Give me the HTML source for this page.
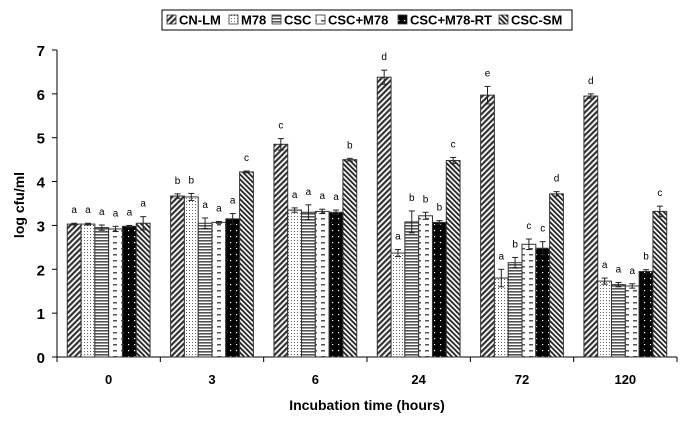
<!DOCTYPE html>
<html><head><meta charset="utf-8"><style>
body{margin:0;background:#fff;}
svg{display:block;font-family:"Liberation Sans",Arial,sans-serif;}
</style></head><body>
<svg id="chart" width="686" height="421">
<defs>
<pattern id="p0" width="4" height="4" patternUnits="userSpaceOnUse" patternTransform="rotate(45)"><rect width="4" height="4" fill="#fff"/><rect width="2.2" height="4" fill="#333"/></pattern>
<pattern id="p1" width="3" height="3" patternUnits="userSpaceOnUse"><rect width="3" height="3" fill="#fff"/><rect width="1" height="1" fill="#666"/></pattern>
<pattern id="p2" width="4" height="3" patternUnits="userSpaceOnUse"><rect width="4" height="3" fill="#fff"/><rect width="4" height="1.6" fill="#555"/></pattern>
<pattern id="p3" width="8" height="6" patternUnits="userSpaceOnUse"><rect width="8" height="6" fill="#fff"/><rect x="1" y="2" width="4" height="1.5" fill="#555"/></pattern>
<pattern id="p4" width="6" height="6" patternUnits="userSpaceOnUse"><rect width="6" height="6" fill="#000"/><rect x="2" y="2" width="1.2" height="1.2" fill="#fff"/></pattern>
<pattern id="p5" width="3.5" height="3.5" patternUnits="userSpaceOnUse" patternTransform="rotate(-45)"><rect width="3.5" height="3.5" fill="#fff"/><rect width="1.8" height="3.5" fill="#222"/></pattern>
</defs>
<g id="legend">
<rect x="162" y="10" width="410" height="20" fill="#fff" stroke="#000" stroke-width="1"/>
</g>
<g id="plot"></g>
</svg>
<script>
const categories=["0","3","6","24","72","120"];
const seriesNames=["CN-LM","M78","CSC","CSC+M78","CSC+M78-RT","CSC-SM"];
const sCNLM=[3.03,3.67,4.85,6.38,5.97,5.95];
const sM78=[3.03,3.65,3.35,2.37,1.80,1.73];
const sCSC=[2.95,3.05,3.30,3.08,2.15,1.65];
const sCSCM78=[2.92,3.07,3.32,3.22,2.57,1.62];
const sRT=[2.98,3.15,3.30,3.07,2.48,1.95];
const sSM=[3.05,4.22,4.50,4.48,3.72,3.32];
const eCNLM=[0.02,0.05,0.13,0.16,0.2,0.05];
const eM78=[0.02,0.08,0.05,0.08,0.2,0.07];
const eCSC=[0.06,0.12,0.17,0.25,0.12,0.05];
const eCSCM78=[0.06,0.02,0.05,0.08,0.12,0.05];
const eRT=[0.02,0.12,0.05,0.04,0.15,0.04];
const eSM=[0.15,0.02,0.03,0.07,0.05,0.12];
const letters=[["a","b","c","d","e","d"],["a","b","a","a","a","a"],["a","a","a","b","b","a"],["a","a","a","b","c","a"],["a","a","a","b","c","b"],["a","c","b","c","d","c"]];
const yTicks=[0,1,2,3,4,5,6,7];
const series=[sCNLM,sM78,sCSC,sCSCM78,sRT,sSM];
const errs=[eCNLM,eM78,eCSC,eCSCM78,eRT,eSM];
const X0=57,X1=677,Y0=357,Y1=50,YMAX=7;
const gw=(X1-X0)/categories.length, bw=13.8;
const y=v=>Y0-(v/YMAX)*(Y0-Y1);
const xb=(g,s)=>X0+g*gw+(gw-bw*6)/2+s*bw;
const NS="http://www.w3.org/2000/svg";
const plot=document.getElementById('plot');
function mk(t,a,p){const e=document.createElementNS(NS,t);for(const k in a)e.setAttribute(k,a[k]);(p||plot).appendChild(e);return e;}
// axes
let ya=mk('line',{x1:X0,y1:Y1,x2:X0,y2:Y0,stroke:'#000'});


let xa=mk('line',{x1:X0,y1:Y0,x2:X1,y2:Y0,stroke:'#000'});


yTicks.forEach(t=>{
 mk('line',{x1:X0-5,y1:y(t),x2:X0,y2:y(t),stroke:'#000'});
 const tx=mk('text',{x:X0-12,y:y(t)+6,'text-anchor':'end','font-size':15,'font-weight':'bold'});
 tx.textContent=t;
 
 
});
categories.forEach((c,g)=>{
 mk('line',{x1:X0+g*gw,y1:Y0,x2:X0+g*gw,y2:Y0+5,stroke:'#000'});
 if(g==categories.length-1) mk('line',{x1:X1,y1:Y0,x2:X1,y2:Y0+5,stroke:'#000'});
 const tx=mk('text',{x:X0+g*gw+gw/2,y:384,'text-anchor':'middle','font-size':13,'font-weight':'bold'});
 tx.textContent=c;
 
 
});
series.forEach((arr,s)=>{
 arr.forEach((v,g)=>{
  const x=xb(g,s);
  const r=mk('rect',{x:x,y:y(v),width:bw,height:Y0-y(v),fill:'url(#p'+s+')',stroke:'#333','stroke-width':1});
  
  
  const e=errs[s][g],cx=x+bw/2;
  mk('line',{x1:cx,y1:y(v+e),x2:cx,y2:y(v-e),stroke:'#222','stroke-width':1});
  mk('line',{x1:cx-3,y1:y(v+e),x2:cx+3,y2:y(v+e),stroke:'#222'});
  mk('line',{x1:cx-3,y1:y(v-e),x2:cx+3,y2:y(v-e),stroke:'#222'});
  const lt=mk('text',{x:cx,y:y(v+e)-10,'text-anchor':'middle','font-size':10,fill:'#000'});
  lt.textContent=letters[s][g];
  
  
 });
});
let yt=mk('text',{x:24,y:205,'text-anchor':'middle','font-size':14,'font-weight':'bold',transform:'rotate(-90 24 205)'});
yt.textContent='log cfu/ml';


let xt=mk('text',{x:367,y:410,'text-anchor':'middle','font-size':14,'font-weight':'bold'});
xt.textContent='Incubation time (hours)';


// legend
const leg=document.getElementById('legend');
const lx=[167,229,272,316,398,499];
seriesNames.forEach((n,s)=>{
 const sw=mk('rect',{x:lx[s],y:15,width:9,height:9,fill:'url(#p'+s+')',stroke:'#333','stroke-width':0.8},leg);
 
 
 const t=mk('text',{x:lx[s]+12,y:24.5,'font-size':13,'font-weight':'bold'},leg);
 t.textContent=n;
 
 
});
</script>
</body></html>
